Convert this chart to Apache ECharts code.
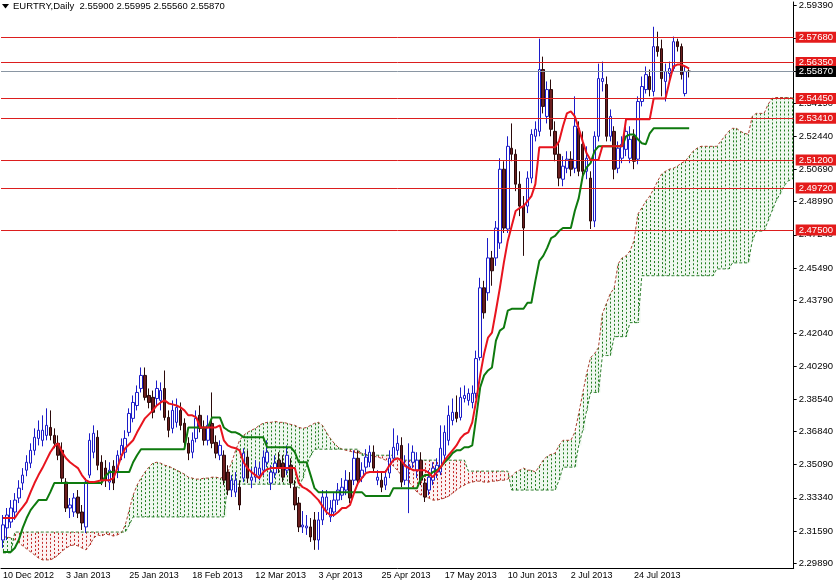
<!DOCTYPE html>
<html><head><meta charset="utf-8">
<script src="https://cdn.jsdelivr.net/npm/echarts@6/dist/echarts.min.js"></script>
<style>html,body{margin:0;padding:0;background:#fff}#c{width:836px;height:584px}</style>
</head><body><div id="c"></div>
<script>
const title = 'EURTRY,Daily  2.55900 2.55995 2.55560 2.55870';
const dateLabels = ['10 Dec 2012','3 Jan 2013','25 Jan 2013','18 Feb 2013','12 Mar 2013','3 Apr 2013','25 Apr 2013','17 May 2013','10 Jun 2013','2 Jul 2013','24 Jul 2013'];
const yTicks = [2.2989,2.3159,2.3334,2.3509,2.3684,2.3854,2.4029,2.4204,2.4379,2.4549,2.4724,2.4899,2.5069,2.5244,2.5419,2.5589,2.5764,2.5939];
const yMin = 2.2963, yMax = 2.5955;
const levels = [2.5768,2.5635,2.5445,2.5341,2.5120,2.4972,2.4750];
const lastPrice = 2.5587;

const opens = [
2.3111,2.3175,2.3206,2.3259,2.3333,2.3412,2.3480,2.3517,2.3585,2.3648,
2.3638,2.3664,2.3706,2.3664,2.3622,2.3585,2.3417,2.3280,2.3259,2.3338,
2.3259,2.3180,2.3454,2.3575,2.3654,2.3522,2.3491,2.3417,2.3501,2.3470,
2.3559,2.3575,2.3680,2.3754,2.3822,2.3912,2.3981,2.3875,2.3865,2.3859,
2.3849,2.3912,2.3759,2.3701,2.3733,2.3796,2.3728,2.3622,2.3575,2.3648,
2.3770,2.3701,2.3638,2.3727,2.3627,2.3559,2.3559,2.3470,2.3375,2.3364,
2.3390,2.3438,2.3549,2.3427,2.3443,2.3454,2.3480,2.3522,2.3412,2.3465,
2.3533,2.3517,2.3480,2.3506,2.3390,2.3306,2.3180,2.3175,2.3180,2.3217,
2.3111,2.3217,2.3269,2.3233,2.3259,2.3322,2.3348,2.3375,2.3427,2.3427,
2.3543,2.3443,2.3496,2.3522,2.3575,2.3427,2.3427,2.3401,2.3465,2.3543,
2.3585,2.3611,2.3427,2.3491,2.3522,2.3480,2.3533,2.3412,2.3375,2.3427,
2.3470,2.3470,2.3559,2.3638,2.3743,2.3786,2.3759,2.3859,2.3849,2.3838,
2.3886,2.4076,2.4444,2.4418,2.4602,2.4602,2.4681,2.5071,2.4755,2.5182,
2.5150,2.4992,2.4876,2.4876,2.5024,2.5245,2.5271,2.5598,2.5350,2.5492,
2.5271,2.5150,2.5018,2.5076,2.5124,2.5076,2.5287,2.5203,2.5060,2.5024,
2.4797,2.5245,2.5535,2.5519,2.5245,2.5271,2.5076,2.5129,2.5176,2.5129,
2.5245,2.5124,2.5429,2.5492,2.5561,2.5482,2.5719,2.5708,2.5535,2.5577,
2.5603,2.5745,2.5719,2.5471,2.5590];
const closes = [
2.3191,2.3243,2.3280,2.3322,2.3385,2.3454,2.3522,2.3585,2.3654,2.3691,
2.3691,2.3717,2.3664,2.3622,2.3559,2.3438,2.3280,2.3296,2.3333,2.3253,
2.3201,2.3417,2.3638,2.3675,2.3506,2.3427,2.3427,2.3480,2.3412,2.3559,
2.3611,2.3648,2.3780,2.3838,2.3891,2.3981,2.3865,2.3838,2.3786,2.3912,
2.3901,2.3759,2.3691,2.3796,2.3812,2.3717,2.3627,2.3570,2.3638,2.3754,
2.3701,2.3638,2.3717,2.3622,2.3570,2.3611,2.3427,2.3375,2.3427,2.3427,
2.3296,2.3570,2.3438,2.3443,2.3496,2.3491,2.3549,2.3575,2.3470,2.3517,
2.3491,2.3443,2.3559,2.3412,2.3296,2.3180,2.3190,2.3185,2.3127,2.3111,
2.3217,2.3338,2.3338,2.3280,2.3322,2.3375,2.3390,2.3427,2.3333,2.3543,
2.3427,2.3480,2.3549,2.3575,2.3491,2.3443,2.3390,2.3443,2.3543,2.3601,
2.3622,2.3417,2.3506,2.3501,2.3575,2.3533,2.3427,2.3338,2.3443,2.3491,
2.3506,2.3596,2.3680,2.3770,2.3786,2.3754,2.3865,2.3875,2.3886,2.3886,
2.4070,2.4444,2.4312,2.4602,2.4534,2.4760,2.5071,2.4760,2.5192,2.5150,
2.4992,2.4876,2.4760,2.5024,2.5255,2.5282,2.5598,2.5403,2.5492,2.5282,
2.5150,2.5024,2.5087,2.5124,2.5071,2.5298,2.5060,2.5060,2.5129,2.4797,
2.5245,2.5550,2.5550,2.5245,2.5350,2.5071,2.5182,2.5203,2.5271,2.5229,
2.5113,2.5429,2.5508,2.5571,2.5492,2.5719,2.5693,2.5550,2.5587,2.5603,
2.5745,2.5719,2.5571,2.5587,2.5587];
const lows = [
2.3069,2.3111,2.3175,2.3217,2.3306,2.3375,2.3448,2.3491,2.3559,2.3611,
2.3606,2.3638,2.3638,2.3596,2.3533,2.3417,2.3259,2.3227,2.3233,2.3227,
2.3164,2.3148,2.3438,2.3543,2.3480,2.3401,2.3391,2.3375,2.3375,2.3438,
2.3533,2.3543,2.3659,2.3733,2.3796,2.3891,2.3849,2.3807,2.3754,2.3822,
2.3796,2.3743,2.3654,2.3675,2.3706,2.3691,2.3596,2.3533,2.3543,2.3627,
2.3680,2.3611,2.3611,2.3596,2.3543,2.3533,2.3401,2.3348,2.3338,2.3338,
2.3269,2.3417,2.3412,2.3385,2.3417,2.3427,2.3454,2.3496,2.3375,2.3438,
2.3465,2.3417,2.3454,2.3385,2.3269,2.3153,2.3148,2.3138,2.3101,2.3059,
2.3059,2.3190,2.3243,2.3206,2.3233,2.3296,2.3322,2.3348,2.3306,2.3401,
2.3401,2.3417,2.3470,2.3496,2.3465,2.3401,2.3364,2.3375,2.3438,2.3522,
2.3559,2.3391,2.3401,2.3253,2.3491,2.3438,2.3401,2.3312,2.3348,2.3401,
2.3438,2.3454,2.3533,2.3611,2.3717,2.3733,2.3743,2.3838,2.3822,2.3807,
2.3859,2.4060,2.4281,2.4376,2.4455,2.4560,2.4650,2.4734,2.4734,2.5113,
2.4955,2.4823,2.4613,2.4839,2.4997,2.5218,2.5245,2.5366,2.5313,2.5245,
2.5113,2.4981,2.4981,2.5050,2.5034,2.5050,2.5034,2.5034,2.5018,2.4755,
2.4765,2.5218,2.5482,2.5218,2.5218,2.5018,2.5050,2.5103,2.5140,2.5103,
2.5071,2.5097,2.5403,2.5471,2.5456,2.5456,2.5666,2.5456,2.5429,2.5545,
2.5587,2.5693,2.5545,2.5456,2.5556];
const highs = [
2.3243,2.3280,2.3322,2.3359,2.3427,2.3491,2.3559,2.3622,2.3701,2.3743,
2.3770,2.3807,2.3796,2.3701,2.3664,2.3627,2.3438,2.3333,2.3359,2.3375,
2.3296,2.3438,2.3675,2.3717,2.3691,2.3559,2.3533,2.3522,2.3533,2.3585,
2.3648,2.3691,2.3807,2.3875,2.3928,2.4023,2.4023,2.3912,2.3901,2.3954,
2.3944,2.4007,2.3796,2.3849,2.3859,2.3838,2.3754,2.3654,2.3680,2.3796,
2.3822,2.3743,2.3770,2.3891,2.3664,2.3638,2.3585,2.3506,2.3454,2.3470,
2.3427,2.3596,2.3585,2.3491,2.3533,2.3522,2.3585,2.3638,2.3506,2.3559,
2.3575,2.3559,2.3611,2.3543,2.3427,2.3338,2.3264,2.3243,2.3227,2.3259,
2.3259,2.3375,2.3375,2.3322,2.3359,2.3412,2.3438,2.3480,2.3470,2.3585,
2.3585,2.3522,2.3591,2.3611,2.3611,2.3480,2.3470,2.3480,2.3585,2.3701,
2.3664,2.3654,2.3559,2.3622,2.3611,2.3575,2.3575,2.3438,2.3480,2.3522,
2.3543,2.3717,2.3717,2.3822,2.3859,2.3875,2.3917,2.3928,2.3912,2.3928,
2.4112,2.4497,2.4481,2.4707,2.4639,2.4797,2.5129,2.5113,2.5245,2.5313,
2.5176,2.5060,2.4929,2.5060,2.5282,2.5324,2.5761,2.5666,2.5535,2.5545,
2.5324,2.5218,2.5140,2.5166,2.5166,2.5456,2.5324,2.5271,2.5192,2.5060,
2.5271,2.5629,2.5640,2.5561,2.5387,2.5298,2.5218,2.5245,2.5324,2.5298,
2.5282,2.5456,2.5561,2.5614,2.5598,2.5824,2.5798,2.5756,2.5629,2.5640,
2.5772,2.5761,2.5735,2.5614,2.55995];
const tenkan = [
2.3227,2.3227,2.3227,2.3227,2.3259,2.3285,2.3312,2.3364,2.3412,2.3454,
2.3491,2.3533,2.3575,2.3606,2.3622,2.3575,2.3543,2.3522,2.3506,2.3491,
2.3454,2.3427,2.3417,2.3417,2.3422,2.3427,2.3427,2.3427,2.3438,2.3491,
2.3554,2.3596,2.3617,2.3638,2.3680,2.3717,2.3754,2.3775,2.3796,2.3822,
2.3838,2.3849,2.3833,2.3828,2.3822,2.3812,2.3796,2.3770,2.3770,2.3759,
2.3706,2.3706,2.3706,2.3706,2.3706,2.3717,2.3638,2.3611,2.3601,2.3596,
2.3585,2.3522,2.3491,2.3470,2.3454,2.3438,2.3470,2.3485,2.3491,2.3491,
2.3491,2.3491,2.3491,2.3491,2.3491,2.3412,2.3390,2.3380,2.3364,2.3343,
2.3322,2.3290,2.3259,2.3243,2.3243,2.3259,2.3280,2.3280,2.3296,2.3359,
2.3412,2.3438,2.3465,2.3470,2.3470,2.3470,2.3470,2.3470,2.3506,2.3533,
2.3543,2.3533,2.3501,2.3491,2.3480,2.3480,2.3480,2.3480,2.3465,2.3443,
2.3470,2.3496,2.3533,2.3559,2.3585,2.3611,2.3648,2.3670,2.3680,2.3733,
2.3849,2.3981,2.4096,2.4181,2.4207,2.4323,2.4444,2.4576,2.4692,2.4771,
2.4850,2.4866,2.4876,2.4902,2.4929,2.4992,2.5187,2.5187,2.5187,2.5187,
2.5187,2.5218,2.5298,2.5366,2.5377,2.5350,2.5287,2.5218,2.5155,2.5120,
2.5120,2.5120,2.5192,2.5192,2.5192,2.5192,2.5192,2.5192,2.5335,2.5335,
2.5335,2.5335,2.5335,2.5335,2.5335,2.5445,2.5445,2.5445,2.5445,2.5535,
2.5614,2.5624,2.5624,2.5614,2.5603];
const kijun = [
2.3048,2.3048,2.3048,2.3069,2.3111,2.3175,2.3227,2.3269,2.3296,2.3322,
2.3322,2.3322,2.3364,2.3412,2.3412,2.3412,2.3412,2.3412,2.3412,2.3412,
2.3412,2.3412,2.3412,2.3412,2.3412,2.3412,2.3449,2.3470,2.3470,2.3470,
2.3470,2.3470,2.3470,2.3522,2.3559,2.3591,2.3591,2.3591,2.3591,2.3591,
2.3591,2.3591,2.3591,2.3591,2.3591,2.3591,2.3591,2.3706,2.3706,2.3706,
2.3706,2.3706,2.3706,2.3759,2.3759,2.3759,2.3706,2.3691,2.3680,2.3680,
2.3670,2.3654,2.3654,2.3654,2.3654,2.3654,2.3654,2.3601,2.3601,2.3601,
2.3601,2.3601,2.3601,2.3601,2.3575,2.3522,2.3522,2.3522,2.3454,2.3385,
2.3364,2.3364,2.3364,2.3364,2.3364,2.3364,2.3364,2.3364,2.3364,2.3364,
2.3364,2.3364,2.3343,2.3343,2.3343,2.3343,2.3343,2.3343,2.3343,2.3385,
2.3385,2.3385,2.3385,2.3385,2.3385,2.3385,2.3438,2.3454,2.3454,2.3470,
2.3480,2.3496,2.3522,2.3543,2.3570,2.3585,2.3585,2.3601,2.3601,2.3611,
2.3759,2.3917,2.3981,2.4007,2.4023,2.4165,2.4218,2.4233,2.4323,2.4333,
2.4333,2.4333,2.4333,2.4365,2.4365,2.4481,2.4586,2.4613,2.4655,2.4707,
2.4718,2.4744,2.4760,2.4760,2.4760,2.4850,2.4918,2.5034,2.5081,2.5103,
2.5166,2.5192,2.5192,2.5192,2.5192,2.5192,2.5192,2.5192,2.5245,2.5255,
2.5255,2.5229,2.5208,2.5203,2.5261,2.5287,2.5287,2.5287,2.5287,2.5287,
2.5287,2.5287,2.5287,2.5287,2.5287];
const spanA = [
2.3127,2.3127,2.3122,2.3111,2.3096,2.3080,2.3064,2.3048,2.3032,2.3016,
2.3006,2.3006,2.3006,2.3016,2.3032,2.3053,2.3069,2.3080,2.3085,2.3080,
2.3069,2.3059,2.3085,2.3122,2.3138,2.3132,2.3143,2.3138,2.3132,2.3138,
2.3148,2.3190,2.3269,2.3348,2.3401,2.3438,2.3470,2.3496,2.3517,2.3522,
2.3517,2.3506,2.3501,2.3491,2.3480,2.3470,2.3459,2.3443,2.3438,2.3433,
2.3433,2.3438,2.3438,2.3443,2.3443,2.3438,2.3443,2.3470,2.3522,2.3585,
2.3638,2.3664,2.3680,2.3691,2.3701,2.3717,2.3728,2.3733,2.3733,2.3738,
2.3733,2.3733,2.3728,2.3722,2.3717,2.3706,2.3701,2.3706,2.3717,2.3728,
2.3733,2.3717,2.3680,2.3648,2.3622,2.3601,2.3591,2.3585,2.3580,2.3575,
2.3570,2.3570,2.3564,2.3559,2.3554,2.3549,2.3543,2.3533,2.3522,2.3501,
2.3480,2.3454,2.3438,2.3417,2.3390,2.3364,2.3348,2.3338,2.3333,2.3322,
2.3322,2.3327,2.3333,2.3343,2.3359,2.3375,2.3390,2.3401,2.3412,2.3417,
2.3422,2.3422,2.3417,2.3417,2.3422,2.3422,2.3427,2.3427,2.3433,2.3449,
2.3470,2.3480,2.3491,2.3480,2.3480,2.3470,2.3501,2.3533,2.3554,2.3564,
2.3570,2.3611,2.3638,2.3638,2.3638,2.3680,2.3780,2.3886,2.3991,2.4075,
2.4096,2.4128,2.4307,2.4360,2.4413,2.4444,2.4571,2.4602,2.4613,2.4639,
2.4692,2.4834,2.4866,2.4902,2.4929,2.4966,2.5008,2.5045,2.5060,2.5071,
2.5076,2.5087,2.5103,2.5113,2.5140,2.5166,2.5182,2.5192,2.5192,2.5192,
2.5192,2.5192,2.5218,2.5245,2.5271,2.5287,2.5287,2.5271,2.5261,2.5255,
2.5350,2.5366,2.5366,2.5366,2.5413,2.5445,2.5450,2.5450,2.5450,2.5450,
2.5450];
const spanB = [
2.3043,2.3043,2.3043,2.3153,2.3153,2.3153,2.3153,2.3153,2.3153,2.3153,
2.3153,2.3153,2.3153,2.3153,2.3153,2.3153,2.3153,2.3153,2.3153,2.3153,
2.3153,2.3153,2.3153,2.3153,2.3153,2.3153,2.3153,2.3153,2.3153,2.3153,
2.3153,2.3153,2.3190,2.3233,2.3233,2.3233,2.3233,2.3233,2.3233,2.3233,
2.3233,2.3233,2.3233,2.3233,2.3233,2.3233,2.3233,2.3233,2.3233,2.3233,
2.3233,2.3233,2.3233,2.3233,2.3233,2.3233,2.3233,2.3406,2.3406,2.3406,
2.3406,2.3406,2.3406,2.3406,2.3406,2.3406,2.3406,2.3406,2.3406,2.3406,
2.3406,2.3406,2.3406,2.3406,2.3406,2.3385,2.3438,2.3506,2.3559,2.3591,
2.3591,2.3591,2.3591,2.3591,2.3591,2.3591,2.3591,2.3591,2.3591,2.3591,
2.3591,2.3559,2.3559,2.3559,2.3559,2.3559,2.3559,2.3559,2.3559,2.3559,
2.3533,2.3533,2.3533,2.3533,2.3533,2.3533,2.3533,2.3533,2.3533,2.3533,
2.3533,2.3533,2.3533,2.3533,2.3533,2.3533,2.3533,2.3533,2.3475,2.3475,
2.3475,2.3475,2.3475,2.3475,2.3475,2.3475,2.3475,2.3475,2.3475,2.3375,
2.3375,2.3375,2.3375,2.3375,2.3375,2.3375,2.3375,2.3375,2.3375,2.3375,
2.3375,2.3427,2.3496,2.3496,2.3496,2.3496,2.3611,2.3691,2.3796,2.3891,
2.3891,2.3891,2.4086,2.4086,2.4086,2.4186,2.4186,2.4186,2.4186,2.4260,
2.4260,2.4260,2.4508,2.4508,2.4508,2.4508,2.4508,2.4508,2.4508,2.4508,
2.4508,2.4508,2.4508,2.4508,2.4508,2.4508,2.4508,2.4508,2.4508,2.4508,
2.4508,2.4544,2.4544,2.4544,2.4544,2.4576,2.4576,2.4576,2.4576,2.4576,
2.4692,2.4744,2.4744,2.4744,2.4797,2.4850,2.4902,2.4939,2.4981,2.5008,
2.5018];

const FONT = 'Liberation Sans';
const chart = echarts.init(document.getElementById('c'), null, {renderer: 'canvas'});
const N = spanA.length;
const cats = [];
for (let i = 0; i < N; i++) cats.push(String(i));
const nBars = opens.length;
const candleData = opens.map((o, i) => [o, closes[i], lows[i], highs[i]]);
const showTick = (i) => i % 16 === 0 && i < nBars;

const levelLines = levels.map(v => ({
  yAxis: v,
  lineStyle: {color: '#dc1e1e', width: 1, type: 'solid'},
  label: {backgroundColor: '#e41b1b'}
}));
levelLines.push({
  yAxis: lastPrice,
  lineStyle: {color: '#8a96a3', width: 1, type: 'solid'},
  label: {backgroundColor: '#000000'}
});

const option = {
  animation: false,
  backgroundColor: '#ffffff',
  grid: {left: 0, right: 40, top: 0, bottom: 16, containLabel: false},
  graphic: [
    {type: 'polygon', shape: {points: [[2, 4], [9, 4], [5.5, 8.5]]}, style: {fill: '#000'}, z: 100},
    {type: 'text', x: 13, y: 1, style: {text: title, fill: '#000', fontSize: 9.5, fontFamily: FONT}, z: 100}
  ],
  xAxis: {
    type: 'category', data: cats, boundaryGap: true,
    axisLine: {lineStyle: {color: '#000', width: 1}},
    axisTick: {alignWithLabel: true, interval: showTick, length: 5, lineStyle: {color: '#000'}},
    axisLabel: {
      interval: showTick, hideOverlap: false,
      formatter: (v, i) => dateLabels[Math.round(i / 16)] || '',
      align: 'left', margin: 3, fontSize: 9, fontFamily: FONT, color: '#000'
    },
    splitLine: {show: false}
  },
  yAxis: {
    type: 'value', position: 'right', min: yMin, max: yMax,
    axisLine: {show: true, lineStyle: {color: '#000'}},
    axisTick: {show: true, customValues: yTicks, length: 3, lineStyle: {color: '#000'}},
    axisLabel: {customValues: yTicks, formatter: v => Number(v).toFixed(5), margin: 5, fontSize: 9.5, fontFamily: FONT, color: '#000'},
    splitLine: {show: false}
  },
  series: [
    {
      type: 'custom', name: 'kumo', z: 1, silent: true,
      data: spanA.map((a, i) => [i, a, spanB[i]]),
      encode: {x: 0, y: [1, 2]},
      renderItem: (params, api) => {
        const i = api.value(0), a = api.value(1), b = api.value(2);
        const p1 = api.coord([i, a]), p2 = api.coord([i, b]);
        const x = Math.round(p1[0]) + 0.5;
        const up = a >= b;
        const top = Math.min(p1[1], p2[1]), h = Math.abs(p1[1] - p2[1]);
        return {type: 'group', children: [
          {type: 'rect', shape: {x: x - 2, y: top, width: 4, height: h},
            style: {fill: up ? 'rgba(40,150,40,0.07)' : 'rgba(200,40,40,0.06)'}},
          {type: 'line', shape: {x1: x, y1: p1[1], x2: x, y2: p2[1]},
            style: {stroke: up ? '#1f7d1f' : '#c42a2a', lineWidth: 1, lineDash: [2, 2]}}
        ]};
      }
    },
    {type: 'line', name: 'spanA', data: spanA, symbol: 'none', silent: true, z: 2,
      lineStyle: {color: '#a8402f', width: 1, type: [3, 2]}},
    {type: 'line', name: 'spanB', data: spanB, symbol: 'none', silent: true, z: 2,
      lineStyle: {color: '#2a7d2a', width: 1, type: [3, 2]}},
    {type: 'line', name: 'levels', data: [], z: 3, silent: true,
      markLine: {
        silent: true, symbol: 'none', precision: 5, animation: false,
        label: {show: true, position: 'end', distance: 2, formatter: p => Number(p.value).toFixed(5),
          color: '#fff', padding: [1, 3, 0, 3], fontSize: 9.5, fontFamily: FONT},
        data: levelLines
      }},
    {type: 'candlestick', name: 'EURTRY', data: candleData, z: 4, barWidth: 3, silent: true,
      itemStyle: {color: '#ffffff', color0: '#6b1e1e', borderColor: '#1c1cc8', borderColor0: '#2a0a0a', borderWidth: 1}},
    {type: 'line', name: 'kijun', data: kijun, symbol: 'none', silent: true, z: 5,
      lineStyle: {color: '#0e7a0e', width: 2}},
    {type: 'line', name: 'tenkan', data: tenkan, symbol: 'none', silent: true, z: 6,
      lineStyle: {color: '#e8141e', width: 2}}
  ]
};
chart.setOption(option);
</script>
</body></html>
